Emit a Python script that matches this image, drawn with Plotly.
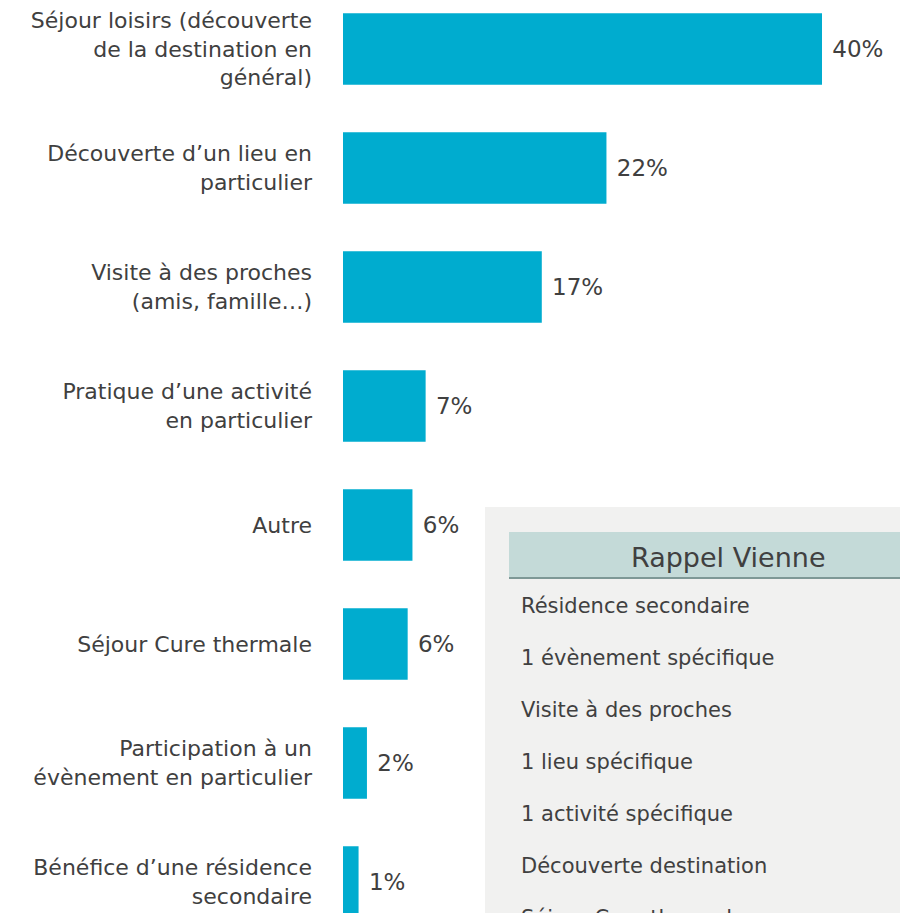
import plotly.graph_objects as go

categories = [
    "Séjour loisirs (découverte<br>de la destination en<br>général)",
    "Découverte d’un lieu en<br>particulier",
    "Visite à des proches<br>(amis, famille…)",
    "Pratique d’une activité<br>en particulier",
    "Autre",
    "Séjour Cure thermale",
    "Participation à un<br>évènement en particulier",
    "Bénéfice d’une résidence<br>secondaire",
]
values = [40.0, 22.0, 16.6, 6.9, 5.8, 5.4, 2.0, 1.3]
labels = [" 40%", " 22%", " 17%", " 7%", " 6%", " 6%", " 2%", " 1%"]

panel_title = "Rappel Vienne"
panel_items = [
    "Résidence secondaire",
    "1 évènement spécifique",
    "Visite à des proches",
    "1 lieu spécifique",
    "1 activité spécifique",
    "Découverte destination",
    "Séjour Cure thermale",
]

W, H = 900, 913
L = 343
FONT = "DejaVu Sans, sans-serif"
TXT = "#404040"

fig = go.Figure(go.Bar(
    y=categories, x=values, orientation="h",
    marker=dict(color="#00ACCF", line=dict(width=0)),
    width=0.6,
    text=labels, textposition="outside", cliponaxis=False,
    textfont=dict(family=FONT, size=23, color=TXT),
))

px_per = 479 / 40.0
xmax = (W - L) / px_per
step = 119.0
top = -49 / step
bottom = top + H / step

def px(x):
    return (x - L) / (W - L)

def py(y):
    return 1 - y / H

shapes = [
    dict(type="rect", xref="paper", yref="paper", x0=px(485), x1=px(905), y0=py(507), y1=py(920),
         fillcolor="#F1F1F0", line=dict(width=0), layer="above"),
    dict(type="rect", xref="paper", yref="paper", x0=px(509), x1=px(905), y0=py(532), y1=py(578),
         fillcolor="#C4DAD8", line=dict(width=0), layer="above"),
    dict(type="line", xref="paper", yref="paper", x0=px(509), x1=px(905), y0=py(578), y1=py(578),
         line=dict(color="#7E9896", width=2), layer="above"),
]

annotations = [
    dict(text=panel_title, xref="paper", yref="paper", x=px(728), y=py(557), xanchor="center",
         yanchor="middle", showarrow=False, font=dict(family=FONT, size=27, color=TXT)),
]
for i, item in enumerate(panel_items):
    annotations.append(dict(text=item, xref="paper", yref="paper", x=px(519), y=py(606 + 52 * i),
                            xanchor="left", yanchor="middle", showarrow=False,
                            font=dict(family=FONT, size=21, color=TXT)))

fig.update_layout(
    width=W, height=H,
    margin=dict(l=L, r=0, t=0, b=0),
    paper_bgcolor="white", plot_bgcolor="white",
    showlegend=False,
    xaxis=dict(range=[0, xmax], visible=False, fixedrange=True),
    yaxis=dict(range=[bottom, top], showgrid=False, zeroline=False, showline=False,
               ticks="", ticklabelstandoff=30, automargin=False, fixedrange=True,
               tickfont=dict(family=FONT, size=22, color=TXT)),
    shapes=shapes,
    annotations=annotations,
)

fig.write_html("out.html", config={"displayModeBar": False},
               post_script="document.body.style.margin='0';document.body.style.overflow='hidden';")
